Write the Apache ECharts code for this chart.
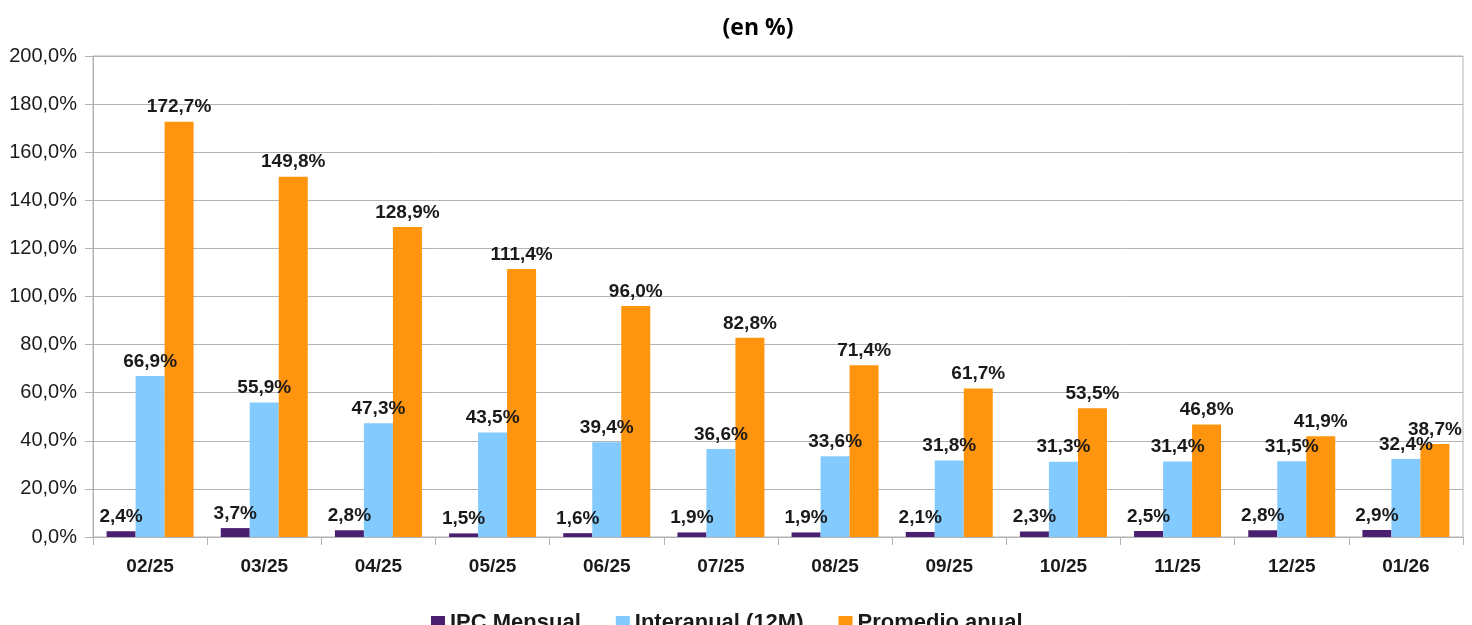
<!DOCTYPE html>
<html>
<head>
<meta charset="utf-8">
<script src="https://cdn.jsdelivr.net/npm/echarts@6/dist/echarts.min.js"></script>
<style>
  html, body { margin: 0; padding: 0; background: #ffffff; }
  #chart { width: 1472px; height: 625px; }
</style>
</head>
<body>
<div id="chart"></div>
<script>
// Months shown on the category axis
const months = ['02/25', '03/25', '04/25', '05/25', '06/25', '07/25', '08/25', '09/25', '10/25', '11/25', '12/25', '01/26'];

// Series values, in percent
const ipcMensual = [2.4, 3.7, 2.8, 1.5, 1.6, 1.9, 1.9, 2.1, 2.3, 2.5, 2.8, 2.9];
const interanual = [66.9, 55.9, 47.3, 43.5, 39.4, 36.6, 33.6, 31.8, 31.3, 31.4, 31.5, 32.4];
const promedioAnual = [172.7, 149.8, 128.9, 111.4, 96.0, 82.8, 71.4, 61.7, 53.5, 46.8, 41.9, 38.7];

// Series names and colours
const seriesNames = ['IPC Mensual', 'Interanual (12M)', 'Promedio anual'];
const seriesColors = ['#4b1f6f', '#83caff', '#ff950e'];

// Value-axis range
const yMin = 0, yMax = 200, yStep = 20;

const FONT = '"Liberation Sans", Arial, sans-serif';
const pct = v => v.toFixed(1).replace('.', ',') + '%';

const chart = echarts.init(document.getElementById('chart'), null, { renderer: 'canvas' });

const makeSeries = (name, data, color) => ({
  name: name,
  type: 'bar',
  data: data,
  barWidth: 29,
  barGap: '0%',
  itemStyle: { color: color },
  label: {
    show: true,
    position: 'top',
    distance: 5,
    formatter: p => pct(p.value),
    fontFamily: FONT,
    fontSize: 19,
    fontWeight: 'bold',
    color: '#1a1a1a'
  }
});

chart.setOption({
  animation: false,
  backgroundColor: '#ffffff',
  title: {
    text: '(en %)',
    left: 753,
    top: 12,
    textAlign: 'center',
    textStyle: { fontFamily: '"Open Sans", sans-serif', fontSize: 23, fontWeight: 'bold', color: '#000000' }
  },
  legend: {
    data: seriesNames,
    left: 426,
    top: 607,
    itemWidth: 14,
    itemHeight: 14,
    itemGap: 35,
    icon: 'rect',
    textStyle: { fontFamily: FONT, fontSize: 22, fontWeight: 'bold', color: '#1a1a1a' }
  },
  grid: {
    left: 93,
    right: 9,
    top: 56,
    bottom: 88,
    show: true,
    borderColor: '#b3b3b3',
    borderWidth: 1,
    containLabel: false
  },
  xAxis: {
    type: 'category',
    data: months,
    axisLine: { lineStyle: { color: '#b3b3b3' } },
    axisTick: { show: true, length: 8, alignWithLabel: false, lineStyle: { color: '#b3b3b3' } },
    axisLabel: { margin: 20, fontFamily: FONT, fontSize: 19, fontWeight: 'bold', color: '#1a1a1a' },
    splitLine: { show: false }
  },
  yAxis: {
    type: 'value',
    min: yMin,
    max: yMax,
    interval: yStep,
    axisLine: { show: true, lineStyle: { color: '#b3b3b3' } },
    axisTick: { show: true, length: 8, lineStyle: { color: '#b3b3b3' } },
    axisLabel: { margin: 16, fontFamily: FONT, fontSize: 20, color: '#1a1a1a', formatter: v => pct(v) },
    splitLine: { show: true, lineStyle: { color: '#b3b3b3' } }
  },
  series: [
    makeSeries(seriesNames[0], ipcMensual, seriesColors[0]),
    makeSeries(seriesNames[1], interanual, seriesColors[1]),
    makeSeries(seriesNames[2], promedioAnual, seriesColors[2])
  ]
});
</script>
</body>
</html>
